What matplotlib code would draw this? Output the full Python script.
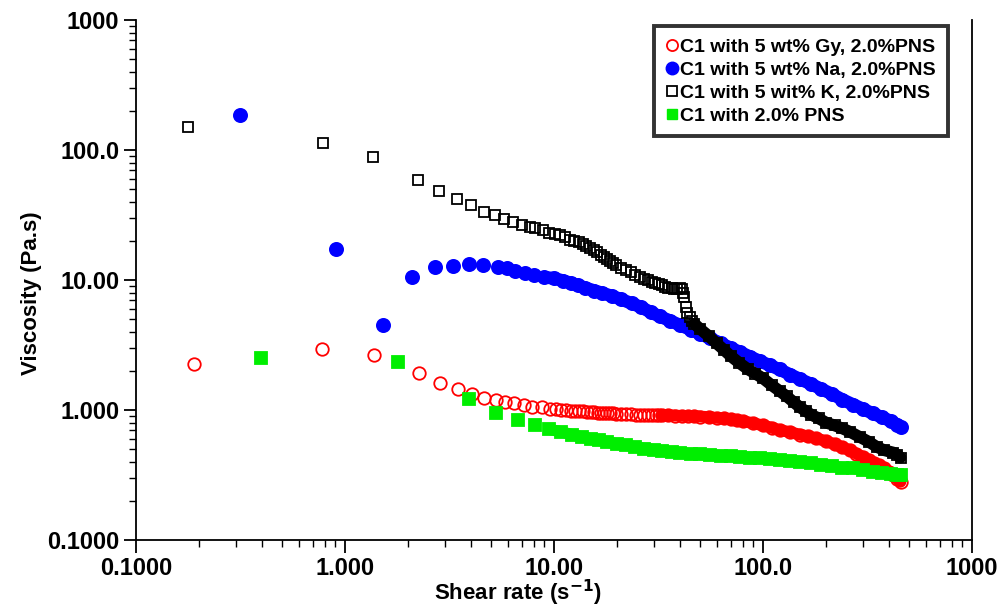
import matplotlib
matplotlib.use("Agg")
import matplotlib.pyplot as plt
from matplotlib.ticker import LogLocator, FixedFormatter, FixedLocator, NullFormatter
from matplotlib.lines import Line2D
import numpy as np

plt.rcParams['font.family'] = ['Liberation Sans', 'DejaVu Sans']
plt.rcParams['font.weight'] = 'bold'
plt.rcParams['mathtext.default'] = 'bf'

# C1 with 5 wt% Gy, 2.0%PNS
gy_x = [0.19, 0.78, 1.38, 2.27, 2.86, 3.49, 4.03, 4.61, 5.26, 5.81, 6.42, 7.17, 7.84, 8.75, 9.57,
        10.2, 10.8, 11.4, 12.0, 12.6, 13.2, 13.8, 14.4, 15.0, 15.6, 16.2, 16.8, 17.4, 18.0, 18.6,
        19.2, 19.8, 21.0, 22.2, 23.4, 24.6, 25.8, 27.0, 28.2, 29.4, 30.6, 31.8, 33.0, 35, 38, 41,
        44, 47, 50, 55, 60, 65, 70, 75, 80, 90, 100, 110, 120, 135, 150, 165, 180, 200, 220, 240,
        260, 280, 300, 320, 340, 360, 380, 400, 420, 440, 455]
gy_y = [2.26, 2.94, 2.65, 1.93, 1.61, 1.45, 1.33, 1.24, 1.19, 1.15, 1.13, 1.09, 1.06, 1.05, 1.02,
        1.01, 1.00, 0.995, 0.99, 0.985, 0.98, 0.975, 0.97, 0.965, 0.96, 0.955, 0.95, 0.95, 0.945, 0.94,
        0.94, 0.935, 0.93, 0.93, 0.925, 0.92, 0.92, 0.915, 0.915, 0.915, 0.91, 0.91, 0.91, 0.91, 0.905, 0.90,
        0.90, 0.895, 0.89, 0.88, 0.87, 0.86, 0.85, 0.835, 0.82, 0.79, 0.76, 0.73, 0.70, 0.675, 0.645, 0.625, 0.605, 0.575, 0.545, 0.515,
        0.49, 0.46, 0.435, 0.41, 0.39, 0.375, 0.355, 0.335, 0.315, 0.295, 0.28]

# C1 with 5 wt% Na, 2.0%PNS
na_x = [0.316, 0.905, 1.52, 2.10, 2.71, 3.27, 3.90, 4.55, 5.37, 5.94, 6.5, 7.25, 8.0, 8.94,
        10, 11, 12, 13, 14, 15.5, 17, 19, 21, 23.5, 26, 29, 32, 36, 40, 45, 50, 56, 63, 70, 78,
        87, 97, 108, 120, 135, 150, 170, 190, 215, 240, 270, 300, 335, 370, 410, 440, 456]
na_y = [186, 17.3, 4.5, 10.5, 12.6, 12.9, 13.3, 13.0, 12.6, 12.4, 11.7, 11.3, 10.9, 10.5,
        10.3, 9.9, 9.5, 9.1, 8.75, 8.3, 7.95, 7.5, 7.1, 6.6, 6.2, 5.65, 5.25, 4.85, 4.5, 4.15, 3.85, 3.55, 3.25, 3.0, 2.78,
        2.56, 2.37, 2.2, 2.05, 1.87, 1.73, 1.58, 1.45, 1.32, 1.2, 1.1, 1.02, 0.94, 0.88, 0.82, 0.77, 0.74]

# C1 with 5 wit% K, 2.0%PNS
k_x = [0.178, 0.784, 1.36, 2.24, 2.83, 3.42, 3.99, 4.61, 5.20, 5.75, 6.34, 7.0, 7.68, 8.1, 8.85, 9.45,
       10.1, 10.7, 11.3, 11.9, 12.5, 13.1, 13.7, 14.3, 14.9, 15.5, 16.1, 16.7, 17.3, 17.9, 18.5, 19.1, 19.7,
       20.9, 22.1, 23.3, 24.5, 25.7, 26.9, 28.1, 29.3, 30.5, 31.7, 32.9, 34.1, 35.3, 36.5, 37.7, 38.9,
       40.0, 41.0, 41.5, 42.0, 42.6, 43.2, 44.6, 45.8, 47, 50, 55, 60, 65, 70, 77, 85, 92, 100, 110,
       120, 130, 140, 150, 160, 170, 185, 200, 220, 240, 260, 290, 320, 350, 380, 420, 440, 455]
k_y = [150, 113, 88, 58.6, 48, 42, 37.8, 33.3, 31.6, 29.5, 28.0, 26.5, 25.6, 25.1, 24.3, 23.0,
       22.5, 22.0, 21.3, 20.4, 20.0, 19.5, 19.0, 18.2, 17.5, 17.0, 16.3, 15.6, 15.0, 14.5, 14.0, 13.5, 13.0,
       12.4, 12.0, 11.5, 11.0, 10.6, 10.2, 10.0, 9.7, 9.5, 9.3, 9.1, 8.9, 8.7, 8.6, 8.5, 8.45,
       8.6, 8.5, 8.0, 7.4, 6.2, 5.6, 5.2, 4.8, 4.6, 4.2, 3.7, 3.25, 2.9, 2.6, 2.3, 2.05, 1.9, 1.75, 1.55,
       1.4, 1.27, 1.15, 1.05, 0.98, 0.92, 0.86, 0.80, 0.76, 0.72, 0.68, 0.62, 0.57, 0.52, 0.49, 0.47, 0.45, 0.43]

# C1 with 2.0% PNS
pns_x = [0.395, 1.80, 3.90, 5.3, 6.7, 8.1, 9.45, 10.8, 12.2, 13.6, 15.0, 16.5, 18, 20, 22, 24.5, 27,
         30, 33, 36.5, 40, 45, 50, 56, 63, 70, 78, 87, 97, 108, 120, 135, 150, 170, 190, 215, 240,
         270, 300, 335, 370, 410, 440, 456]
pns_y = [2.51, 2.34, 1.21, 0.95, 0.84, 0.76, 0.71, 0.68, 0.645, 0.62, 0.60, 0.585, 0.565, 0.55, 0.535, 0.52, 0.505,
         0.495, 0.485, 0.475, 0.47, 0.46, 0.455, 0.45, 0.445, 0.44, 0.435, 0.43, 0.425, 0.42, 0.41, 0.405, 0.40, 0.39, 0.38, 0.37, 0.36,
         0.355, 0.345, 0.335, 0.33, 0.32, 0.318, 0.315]

labels = ["C1 with 5 wt% Gy, 2.0%PNS", "C1 with 5 wt% Na, 2.0%PNS",
          "C1 with 5 wit% K, 2.0%PNS", "C1 with 2.0% PNS"]

fig = plt.figure(figsize=(10, 6.08), dpi=100)
ax = fig.add_axes([0.136, 0.112, 0.836, 0.855])


def draw(x, y, solid_from, color, marker, ms, face, lw_band):
    x = np.array(x)
    y = np.array(y)
    m = x >= solid_from
    # where the measured points pile up they merge into a band
    ax.plot(x[m], y[m], '-', color=color, lw=lw_band, solid_capstyle='round',
            solid_joinstyle='round')
    ax.plot(x, y, ls='none', marker=marker, ms=ms, mfc=face, mec=color, mew=1.3)


draw(gy_x, gy_y, 33, 'red', 'o', 9, 'none', 8.5)
draw(pns_x, pns_y, 9.45, '#00ee00', 's', 8.2, '#00ee00', 8.2)
draw(na_x, na_y, 8.9, 'blue', 'o', 9.5, 'blue', 9.2)
draw(k_x, k_y, 46, 'black', 's', 7.5, 'none', 8.5)

ax.set_xscale('log')
ax.set_yscale('log')
ax.set_xlim(0.1, 1000)
ax.set_ylim(0.1, 1000)

dec = [0.1, 1, 10, 100, 1000]
dec_lbl = ["0.1000", "1.000", "10.00", "100.0", "1000"]
for a in (ax.xaxis, ax.yaxis):
    a.set_major_locator(FixedLocator(dec))
    a.set_major_formatter(FixedFormatter(dec_lbl))
    a.set_minor_locator(LogLocator(base=10, subs=np.arange(2, 10)))
    a.set_minor_formatter(NullFormatter())

ax.tick_params(which='major', length=9, width=1.3, direction='out', labelsize=17, pad=3)
ax.tick_params(which='minor', length=5, width=1.0, direction='out')
for lab in ax.get_xticklabels() + ax.get_yticklabels():
    lab.set_fontweight('bold')
for s in ax.spines.values():
    s.set_linewidth(1.3)
ax.spines['top'].set_visible(False)

ax.set_xlabel("Shear rate (s$^{-1}$)", fontsize=16, fontweight='bold', labelpad=-1)
ax.set_ylabel("Viscosity (Pa.s)", fontsize=16, fontweight='bold', labelpad=4)
ax.xaxis.label.set_x(0.457)
ax.yaxis.label.set_y(0.475)

handles = [
    Line2D([], [], ls='none', marker='o', ms=8, mfc='none', mec='red', mew=1.3),
    Line2D([], [], ls='none', marker='o', ms=9, mfc='blue', mec='blue'),
    Line2D([], [], ls='none', marker='s', ms=7, mfc='none', mec='black', mew=1.3),
    Line2D([], [], ls='none', marker='s', ms=7.5, mfc='#00ee00', mec='#00ee00'),
]
leg = ax.legend(handles, labels, loc='upper right', bbox_to_anchor=(0.971, 0.988),
                prop={'weight': 'bold', 'size': 14}, frameon=True, fancybox=False,
                handlelength=0.6, handletextpad=0.15, labelspacing=0.28, borderpad=0.6,
                borderaxespad=0.0)
leg.get_frame().set_edgecolor('black')
leg.get_frame().set_linewidth(2.8)

fig.savefig("out.png", dpi=100)
